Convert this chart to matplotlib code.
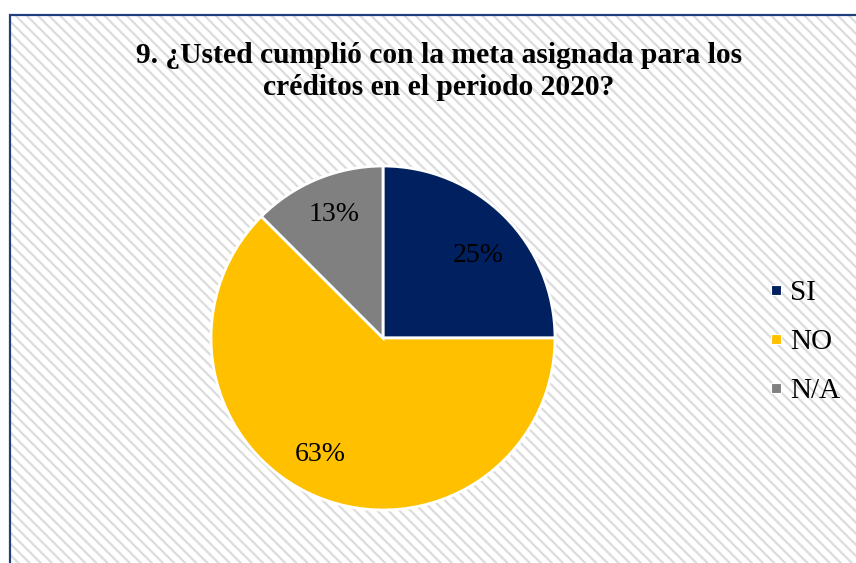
import numpy as np
import matplotlib.pyplot as plt
from matplotlib.patches import Rectangle
from matplotlib.lines import Line2D

# respuestas a la pregunta 9 (porcentaje de encuestados)
labels = ['SI', 'NO', 'N/A']
shares = [25, 62.5, 12.5]
colors = ['#002060', '#FFC000', '#808080']

title_lines = ['9. ¿Usted cumplió con la meta asignada para los',
               'créditos en el periodo 2020?']

W, H = 856, 563
plt.rcParams['font.family'] = ['Liberation Serif', 'DejaVu Serif']
plt.rcParams['hatch.linewidth'] = 1.6

fig = plt.figure(figsize=(W / 100, H / 100), dpi=100)
fig.patch.set_facecolor('white')

# chart area: striped fill and dark blue frame
x0, top = 10 / W, 1 - 15 / H
fig.patches.append(Rectangle((x0, -0.02), 1.0, top + 0.02, transform=fig.transFigure,
                             facecolor='white', edgecolor='#dcdcdc', hatch='\\\\\\',
                             linewidth=0, zorder=-2))
fig.patches.append(Rectangle((x0, -0.02), 1.0, top + 0.02, transform=fig.transFigure,
                             facecolor='none', edgecolor='#203f7f', linewidth=1.6,
                             zorder=-1))

for line, base in zip(title_lines, [63, 95]):
    fig.text(439 / W, 1 - base / H, line, ha='center', va='baseline', fontsize=21.3,
             fontweight='bold')

cx, cy, r = 383, 338, 172
ax = fig.add_axes([(cx - r) / W, (H - cy - r) / H, 2 * r / W, 2 * r / H])
# percentages rounded half up, as in the spreadsheet
wedges, _, autotexts = ax.pie(shares, colors=colors, startangle=90, counterclock=False,
                              autopct=lambda p: f'{int(p + 0.5)}%',
                              pctdistance=0.76,
                              wedgeprops=dict(edgecolor='white', linewidth=2),
                              textprops=dict(fontsize=20, color='black'))

# nudge the percentage labels off the wedge bisector (degrees, radius)
nudges = [(-4, 0.73), (-6, 0.77), (-1, 0.77)]
for w, t, (dang, dist) in zip(wedges, autotexts, nudges):
    ang = np.deg2rad((w.theta1 + w.theta2) / 2 + dang)
    t.set_position((dist * np.cos(ang), dist * np.sin(ang)))

ax.set_xlim(-1, 1)
ax.set_ylim(-1, 1)
ax.set_aspect('equal')

handles = [Line2D([], [], marker='s', linestyle='none', markersize=7.5,
                  markerfacecolor=c, markeredgecolor='white', markeredgewidth=0.8)
           for c in colors]
fig.legend(handles, labels, loc='center left', bbox_to_anchor=(767 / W, 1 - 342 / H),
           frameon=False, fontsize=21, handlelength=0.6, handletextpad=0.18,
           labelspacing=0.78, borderpad=0, borderaxespad=0)

fig.savefig('out.png', dpi=100)
